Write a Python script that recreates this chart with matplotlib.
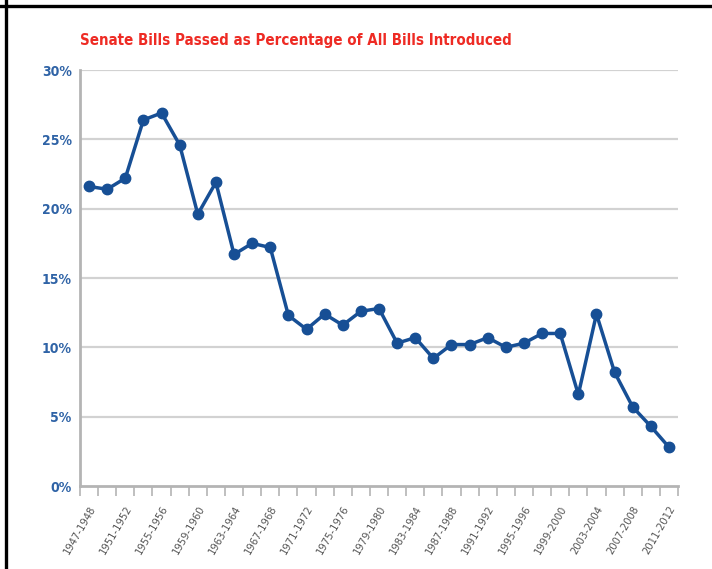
import matplotlib
matplotlib.use("Agg")
import matplotlib.pyplot as plt
from matplotlib.ticker import FixedLocator, FuncFormatter
from matplotlib.lines import Line2D

congresses = [
    "1947-1948", "1949-1950", "1951-1952", "1953-1954", "1955-1956", "1957-1958",
    "1959-1960", "1961-1962", "1963-1964", "1965-1966", "1967-1968", "1969-1970",
    "1971-1972", "1973-1974", "1975-1976", "1977-1978", "1979-1980", "1981-1982",
    "1983-1984", "1985-1986", "1987-1988", "1989-1990", "1991-1992", "1993-1994",
    "1995-1996", "1997-1998", "1999-2000", "2001-2002", "2003-2004", "2005-2006",
    "2007-2008", "2009-2010", "2011-2012",
]
pct_passed = [
    21.6, 21.4, 22.2, 26.4, 26.9, 24.6, 19.6, 21.9, 16.7, 17.5, 17.2, 12.3,
    11.3, 12.4, 11.6, 12.6, 12.8, 10.3, 10.7, 9.2, 10.2, 10.2, 10.7, 10.0,
    10.3, 11.0, 11.0, 6.6, 12.4, 8.2, 5.7, 4.3, 2.8,
]
y_ticks = [0, 5, 10, 15, 20, 25, 30]
title = "Senate Bills Passed as Percentage of All Bills Introduced"

font = ["DejaVu Sans"]
line_blue = "#174f95"
label_blue = "#2f63a6"
axis_gray = "#b4b4b4"
grid_gray = "#d2d2d2"

fig = plt.figure(figsize=(7.12, 5.69), dpi=100)
fig.patch.set_facecolor("white")

# black frame along the top and left edges
fig.add_artist(Line2D([0.0, 1.0], [1 - 5.5 / 569, 1 - 5.5 / 569], transform=fig.transFigure,
                      color="black", lw=2.4))
fig.add_artist(Line2D([6 / 712, 6 / 712], [0.0, 1.0], transform=fig.transFigure,
                      color="black", lw=2.4))

ax = fig.add_axes([80 / 712, 1 - 486 / 569, (678 - 80) / 712, (486 - 70) / 569])
ax.set_facecolor("white")

x = list(range(len(congresses)))
ax.plot(x, pct_passed, color=line_blue, lw=2.5, marker="o", ms=7.5,
        markerfacecolor=line_blue, markeredgecolor=line_blue, zorder=3,
        solid_joinstyle="round")

ax.set_xlim(-0.5, len(congresses) - 0.5)
ax.set_ylim(0, 30)

# horizontal gridlines
for v in y_ticks[1:]:
    ax.axhline(v, color=grid_gray, lw=1.6, zorder=1)
ax.set_yticks(y_ticks)
ax.yaxis.set_major_formatter(FuncFormatter(lambda v, p: f"{int(v)}%"))
ax.tick_params(axis="y", length=0, pad=6)
for lab in ax.get_yticklabels():
    lab.set_fontfamily(font)
    lab.set_fontstretch("condensed")
    lab.set_fontweight("bold")
    lab.set_fontsize(10)
    lab.set_color(label_blue)

# category boundaries carry the tick marks; labels sit on every other category
ax.xaxis.set_minor_locator(FixedLocator([i - 0.5 for i in range(len(congresses) + 1)]))
ax.set_xticks(x[::2])
ax.set_xticklabels(congresses[::2], rotation=60, ha="right", rotation_mode="anchor",
                   fontfamily=font, fontstretch="condensed", fontsize=8, color="#555555")
ax.tick_params(axis="x", which="major", length=0, pad=13)
ax.tick_params(axis="x", which="minor", length=7, width=1.2, color=axis_gray, direction="out")

for side in ("top", "right"):
    ax.spines[side].set_visible(False)
for side in ("left", "bottom"):
    ax.spines[side].set_color(axis_gray)
    ax.spines[side].set_linewidth(2.0)
    ax.spines[side].set_zorder(2)

fig.text(80 / 712, 1 - 40 / 569, title, fontfamily=font, fontstretch="condensed",
         fontweight="bold", fontsize=10.8, color="#ee2b24", ha="left", va="center")

fig.savefig("out.png", dpi=100)
